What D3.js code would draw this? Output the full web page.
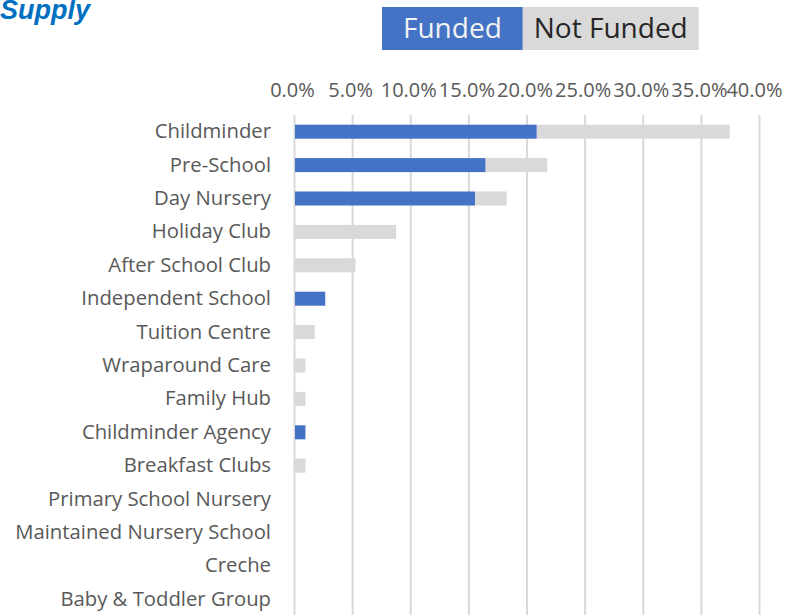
<!DOCTYPE html>
<html>
<head>
<meta charset="utf-8">
<script src="https://cdn.jsdelivr.net/npm/d3@7"></script>
<style>
  body { margin: 0; background: #fff; }
  svg { display: block; }
</style>
</head>
<body>
<div id="vis"></div>
<script>
const FRAME_WIDTH = 788;
const FRAME_HEIGHT = 615;
const MARGINS = {left: 294, right: 29, top: 115, bottom: -1};

// data (percent of providers)
const categories = ["Childminder", "Pre-School", "Day Nursery", "Holiday Club", "After School Club",
  "Independent School", "Tuition Centre", "Wraparound Care", "Family Hub", "Childminder Agency",
  "Breakfast Clubs", "Primary School Nursery", "Maintained Nursery School", "Creche", "Baby & Toddler Group"];
const funded =    [20.8, 16.4, 15.5, 0, 0, 2.6, 0, 0, 0, 0.9, 0, 0, 0, 0, 0];
const notFunded = [16.6, 5.3, 2.7, 8.7, 5.2, 0, 1.7, 0.9, 0.9, 0, 0.9, 0, 0, 0, 0];
const seriesNames = ["Funded", "Not Funded"];
const tickValues = [0, 5, 10, 15, 20, 25, 30, 35, 40];

const COLORS = ["#4472C4", "#D9D9D9"];
const FONT = "'Open Sans', sans-serif";

const data = categories.map((c, i) => ({category: c, Funded: funded[i], "Not Funded": notFunded[i]}));
const stacked = d3.stack().keys(seriesNames)(data);

const FRAME = d3.select("#vis")
  .append("svg")
    .attr("width", FRAME_WIDTH)
    .attr("height", FRAME_HEIGHT);

const X_SCALE = d3.scaleLinear()
  .domain([0, 40])
  .range([MARGINS.left, FRAME_WIDTH - MARGINS.right]);

const Y_SCALE = d3.scaleBand()
  .domain(categories)
  .range([MARGINS.top, FRAME_HEIGHT - MARGINS.bottom])
  .paddingInner(0.58)
  .paddingOuter(0.29);

// gridlines
const grid = FRAME.append("g")
  .attr("transform", "translate(0," + MARGINS.top + ")")
  .call(d3.axisBottom(X_SCALE).tickValues(tickValues)
    .tickSize(FRAME_HEIGHT - MARGINS.top).tickFormat(""));
grid.select(".domain").remove();
grid.selectAll("line").attr("stroke", "#D9D9D9").attr("stroke-width", 2);

// bars
FRAME.selectAll("g.series")
  .data(stacked)
  .enter()
  .append("g")
    .attr("class", "series")
    .attr("fill", (d, i) => COLORS[i])
  .selectAll("rect")
  .data(d => d)
  .enter()
  .append("rect")
    .attr("x", d => X_SCALE(d[0]) + 1)
    .attr("y", d => Y_SCALE(d.data.category))
    .attr("width", d => Math.max(0, X_SCALE(d[1]) - X_SCALE(d[0])))
    .attr("height", Y_SCALE.bandwidth());

// top axis labels
const xAxis = FRAME.append("g")
  .attr("transform", "translate(0," + 97 + ")")
  .call(d3.axisTop(X_SCALE).tickValues(tickValues).tickSize(0).tickPadding(0)
    .tickFormat(d => d.toFixed(1) + "%"));
xAxis.select(".domain").remove();
xAxis.selectAll("text")
  .attr("fill", "#595959")
  .style("font-family", FONT)
  .style("font-size", "20px")
  .attr("dx", -2)
  .each(function(d) {
    // keep the last label inside the frame
    if (d === 40) {
      const w = this.getComputedTextLength();
      const over = X_SCALE(40) - 2 + w / 2 - 782;
      d3.select(this).attr("dx", -2 - Math.max(0, over));
    }
  });

// category labels
const yAxis = FRAME.append("g")
  .attr("transform", "translate(" + (MARGINS.left - 23) + ",0)")
  .call(d3.axisLeft(Y_SCALE).tickSize(0).tickPadding(0));
yAxis.select(".domain").remove();
yAxis.selectAll("text")
  .attr("fill", "#595959")
  .style("font-family", FONT)
  .style("font-size", "20.3px");

// title
FRAME.append("text")
  .attr("x", 0)
  .attr("y", 19)
  .style("font-family", "'Liberation Sans', Arial, sans-serif")
  .style("font-size", "27px")
  .style("font-weight", "bold")
  .style("font-style", "italic")
  .attr("fill", "#0070C0")
  .text("Supply");

// legend
const legendPad = [21, 11];
let lx = 382;
seriesNames.forEach((name, i) => {
  const g = FRAME.append("g");
  const rect = g.append("rect")
    .attr("y", 7)
    .attr("height", 43)
    .attr("fill", COLORS[i]);
  const t = g.append("text")
    .attr("y", 38)
    .style("font-family", FONT)
    .style("font-size", "28px")
    .attr("fill", i === 0 ? "#F2F2F2" : "#262626")
    .text(name);
  const w = t.node().getComputedTextLength();
  rect.attr("x", lx).attr("width", w + 2 * legendPad[i]);
  t.attr("x", lx + legendPad[i]);
  lx += w + 2 * legendPad[i];
});
</script>
</body>
</html>
